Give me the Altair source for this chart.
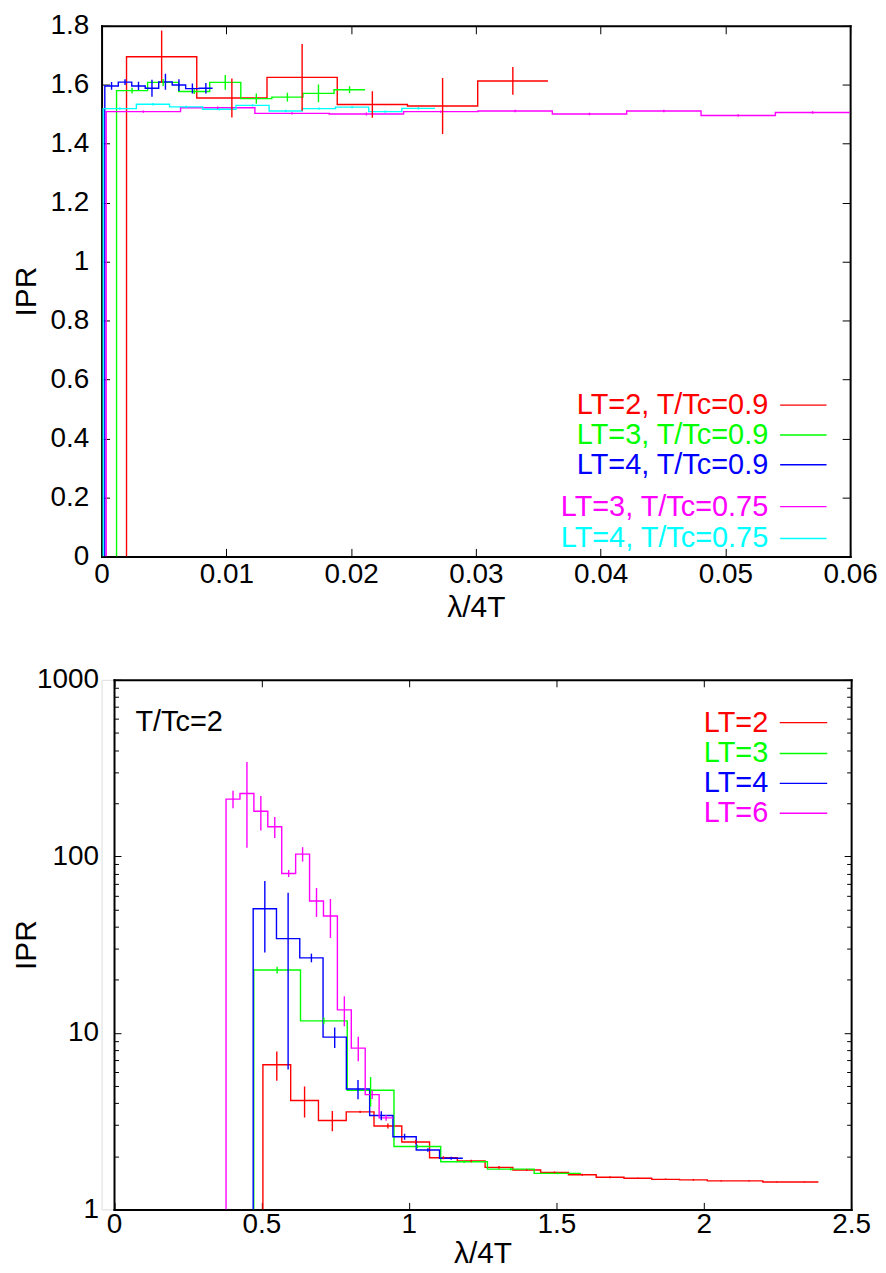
import altair as alt
import pandas as pd

# ----------------------------- data -----------------------------
# Top panel: IPR histograms vs lambda/4T (first bin edge, bin width, bin heights, error bars)
TOP_SERIES = ["LT=2, T/Tc=0.9", "LT=3, T/Tc=0.9", "LT=4, T/Tc=0.9",
              "LT=3, T/Tc=0.75", "LT=4, T/Tc=0.75"]
TOP_COLORS = ["#ff0000", "#00ff00", "#0000ff", "#ff00ff", "#00ffff"]
top_bin_start = [0.0020, 0.0012, 0.00026, 0.00037, 0.00013]
top_bin_width = [0.00563, 0.00249, 0.00108, 0.00596, 0.00266]
top_ipr_lt2_09 = [1.695, 1.555, 1.625, 1.533, 1.528, 1.613]
top_err_lt2_09 = [0.089, 0.066, 0.113, 0.045, 0.095, 0.047]
top_ipr_lt3_09 = [1.580, 1.608, 1.577, 1.608, 1.553, 1.558, 1.571, 1.583]
top_err_lt3_09 = [0.010, 0.012, 0.008, 0.025, 0.017, 0.015, 0.030, 0.012]
top_ipr_lt4_09 = [1.596, 1.609, 1.596, 1.588, 1.610, 1.599, 1.587, 1.588]
top_err_lt4_09 = [0.013, 0.010, 0.014, 0.029, 0.027, 0.020, 0.017, 0.018]
top_ipr_lt3_075 = [1.509, 1.522, 1.503, 1.501, 1.509, 1.511, 1.501, 1.511, 1.496, 1.506]
top_err_lt3_075 = [0.004, 0.004, 0.004, 0.005, 0.004, 0.004, 0.004, 0.004, 0.004, 0.004]
top_ipr_lt4_075 = [1.519, 1.534, 1.525, 1.517, 1.530, 1.511, 1.519, 1.524, 1.509, 1.520]
top_err_lt4_075 = [0.004, 0.004, 0.004, 0.004, 0.004, 0.004, 0.004, 0.004, 0.004, 0.004]
top_x_ticks = [0, 0.01, 0.02, 0.03, 0.04, 0.05, 0.06]
top_y_ticks = [0, 0.2, 0.4, 0.6, 0.8, 1, 1.2, 1.4, 1.6, 1.8]

# Bottom panel: T/Tc = 2, log IPR
BOT_SERIES = ["LT=2", "LT=3", "LT=4", "LT=6"]
BOT_COLORS = ["#ff0000", "#00ff00", "#0000ff", "#ff00ff"]
bot_bin_start = [0.505, 0.474, 0.472, 0.380]
bot_bin_width = [0.0942, 0.1585, 0.0790, 0.0472]
bot_ipr_lt2 = [6.6, 4.14, 3.19, 3.57, 2.97, 2.41, 1.96, 1.88, 1.73, 1.67,
               1.62, 1.57, 1.52, 1.50, 1.48, 1.47, 1.45, 1.45, 1.43, 1.43]
bot_err_lt2 = [1.25, 0.82, 0.42, 0.05, 0.10, 0.06, 0.04, 0.03, 0.03, 0.02,
               0.02, 0.02, 0.02, 0.015, 0.015, 0.015, 0.01, 0.01, 0.01, 0.01]
bot_ipr_lt3 = [22.7, 11.7, 4.73, 2.27, 1.86, 1.69, 1.60]
bot_err_lt3 = [1.0, 0.5, 0.9, 0.05, 0.03, 0.03, 0.02]
bot_ipr_lt4 = [50.5, 34.2, 26.6, 9.46, 4.81, 3.40, 2.58, 2.17, 1.95]
bot_err_lt4 = [22.0, 28.0, 1.5, 1.25, 0.6, 0.2, 0.1, 0.05, 0.04]
bot_ipr_lt6 = [211, 227, 180, 147, 80, 103, 55.8, 45.9, 13.5, 8.2, 4.47, 3.30]
bot_err_lt6 = [24, 115, 40, 20, 3.6, 9.6, 10.4, 11.4, 2.6, 1.3, 0.25, 0.12]
bot_x_ticks = [0, 0.5, 1, 1.5, 2, 2.5]
bot_y_ticks = [1, 10, 100, 1000]
bot_y_minor = [2, 3, 4, 5, 6, 7, 8, 9, 20, 30, 40, 50, 60, 70, 80, 90,
               200, 300, 400, 500, 600, 700, 800, 900]

# ----------------------------- layout / style -----------------------------
FONT = "Liberation Sans"
TICK_FS = 28
TITLE_FS = 30
LEG_FS = 29
LW = 1.4


def step_rows(names, starts, widths, values_list, base):
    rows = []
    for name, x0, w, vals in zip(names, starts, widths, values_list):
        edges = [x0 + w * i for i in range(len(vals) + 1)]
        xs = [edges[0]] + edges[:-1] + [edges[-1]]
        ys = [base] + list(vals) + [vals[-1]]
        for k, (x, y) in enumerate(zip(xs, ys)):
            rows.append({"series": name, "x": x, "y": y, "k": k})
    return pd.DataFrame(rows)


def err_rows(names, starts, widths, values_list, errs_list):
    rows = []
    for name, x0, w, vals, errs in zip(names, starts, widths, values_list, errs_list):
        for i, (v, e) in enumerate(zip(vals, errs)):
            rows.append({"series": name, "x": x0 + w * (i + 0.5), "lo": v - e, "hi": v + e})
    return pd.DataFrame(rows)


def axis(orient, **kw):
    base = dict(orient=orient, grid=False, domain=False, ticks=False, labels=False,
                title=None, domainColor="black", domainWidth=2, domainCap="square",
                tickColor="black", tickWidth=1, labelFont=FONT, labelFontSize=TICK_FS,
                labelColor="black", labelFlush=False, labelOverlap=False,
                titleFont=FONT, titleFontSize=TITLE_FS, titleFontWeight="normal",
                titleColor="black")
    base.update(kw)
    return alt.Axis(**base)


def panel(steps, errs, names, colors, xscale, yscale, xticks, yticks, yminor,
          width, height, left_shift, tick_len, minor_len,
          ylab_pad, yext, ytitle_pad, xlab_pad, xext, xtitle_pad,
          legend_df, leg_text_x, leg_line_x1, leg_line_x2, note=None):
    cscale = alt.Scale(domain=names, range=colors)
    col = alt.Color("series:N", scale=cscale, legend=None)

    lines = alt.Chart(steps).mark_line(interpolate="step-after", strokeWidth=LW, clip=True).encode(
        x=alt.X("x:Q", scale=xscale,
                axis=axis("bottom", domain=True, labels=True, tickSize=0, values=xticks,
                          format="~g", labelPadding=xlab_pad, title="\u03bb/4T",
                          titlePadding=xtitle_pad, minExtent=xext, maxExtent=xext)),
        y=alt.Y("y:Q", scale=yscale,
                axis=axis("left", domain=True, labels=True, tickSize=0, values=yticks,
                          format="~g", labelPadding=ylab_pad, title="IPR",
                          titlePadding=ytitle_pad, minExtent=yext, maxExtent=yext,
                          offset=-left_shift)),
        color=col, order=alt.Order("k:Q"), detail="series:N")

    bars = alt.Chart(errs).mark_rule(strokeWidth=LW, clip=True).encode(
        x=alt.X("x:Q", scale=xscale,
                axis=axis("bottom", ticks=True, tickSize=tick_len, values=xticks, offset=-tick_len)),
        y=alt.Y("lo:Q", scale=yscale,
                axis=axis("left", ticks=True, tickSize=tick_len, values=yticks,
                          offset=-(left_shift + tick_len))),
        y2="hi:Q", color=col)

    frame = alt.Chart(steps).mark_point(opacity=0, size=1).encode(
        x=alt.X("x:Q", scale=xscale, axis=axis("top", domain=True)),
        y=alt.Y("y:Q", scale=yscale, axis=axis("right", domain=True)))

    far_ticks = alt.Chart(steps).mark_point(opacity=0, size=1).encode(
        x=alt.X("x:Q", scale=xscale,
                axis=axis("top", ticks=True, tickSize=tick_len, values=xticks, offset=-tick_len)),
        y=alt.Y("y:Q", scale=yscale,
                axis=axis("right", ticks=True, tickSize=tick_len, values=yticks, offset=-tick_len)))

    layers = [lines, bars, frame, far_ticks]

    if yminor:
        layers.append(alt.Chart(steps).mark_point(opacity=0, size=1).encode(
            x=alt.X("x:Q", scale=xscale, axis=None),
            y=alt.Y("y:Q", scale=yscale,
                    axis=axis("left", ticks=True, tickSize=minor_len, values=yminor,
                              offset=-(left_shift + minor_len)))))
        layers.append(alt.Chart(steps).mark_point(opacity=0, size=1).encode(
            x=alt.X("x:Q", scale=xscale, axis=None),
            y=alt.Y("y:Q", scale=yscale,
                    axis=axis("right", ticks=True, tickSize=minor_len, values=yminor,
                              offset=-minor_len))))

    leg_text = alt.Chart(legend_df).mark_text(align="right", baseline="middle",
                                              font=FONT, fontSize=LEG_FS).encode(
        x=alt.value(leg_text_x), y=alt.Y("ly:Q", scale=None), text="series:N", color=col)
    leg_line = alt.Chart(legend_df).mark_rule(strokeWidth=LW).encode(
        x=alt.value(leg_line_x1), x2=alt.value(leg_line_x2),
        y=alt.Y("ly:Q", scale=None), color=col)
    layers += [leg_text, leg_line]

    if note is not None:
        layers.append(alt.Chart(pd.DataFrame({"t": [note[0]]})).mark_text(
            align="left", baseline="middle", font=FONT, fontSize=LEG_FS, color="black").encode(
            x=alt.value(note[1]), y=alt.value(note[2]), text="t:N"))

    return alt.layer(*layers).resolve_axis(x="independent", y="independent").properties(
        width=width, height=height)


top_steps = step_rows(TOP_SERIES, top_bin_start, top_bin_width,
                      [top_ipr_lt2_09, top_ipr_lt3_09, top_ipr_lt4_09,
                       top_ipr_lt3_075, top_ipr_lt4_075], 0.0)
top_errs = err_rows(TOP_SERIES, top_bin_start, top_bin_width,
                    [top_ipr_lt2_09, top_ipr_lt3_09, top_ipr_lt4_09,
                     top_ipr_lt3_075, top_ipr_lt4_075],
                    [top_err_lt2_09, top_err_lt3_09, top_err_lt4_09,
                     top_err_lt3_075, top_err_lt4_075])
bot_steps = step_rows(BOT_SERIES, bot_bin_start, bot_bin_width,
                      [bot_ipr_lt2, bot_ipr_lt3, bot_ipr_lt4, bot_ipr_lt6], 1.0)
bot_errs = err_rows(BOT_SERIES, bot_bin_start, bot_bin_width,
                    [bot_ipr_lt2, bot_ipr_lt3, bot_ipr_lt4, bot_ipr_lt6],
                    [bot_err_lt2, bot_err_lt3, bot_err_lt4, bot_err_lt6])

TOP_W, TOP_H = 752, 533
BOT_W, BOT_H = 753, 532
BOT_SHIFT = 12.5

top_leg = pd.DataFrame({"series": TOP_SERIES})
top_leg["ly"] = [381, 411, 441, 483, 515]
bot_leg = pd.DataFrame({"series": BOT_SERIES})
bot_leg["ly"] = [43, 74, 104, 134]

top = panel(top_steps, top_errs, TOP_SERIES, TOP_COLORS,
            alt.Scale(domain=[0, 0.06], nice=False, zero=False),
            alt.Scale(domain=[0, 1.8], nice=False, zero=False),
            top_x_ticks, top_y_ticks, None, TOP_W, TOP_H, 0, 8, 4,
            13, 55, 5, 4, 32, 4,
            top_leg, 669.7, 681.7, 728.3)

bottom = panel(bot_steps, bot_errs, BOT_SERIES, BOT_COLORS,
               alt.Scale(domain=[0, 2.5], range=[BOT_SHIFT, BOT_W], nice=False, zero=False),
               alt.Scale(type="log", domain=[1, 1000], nice=False),
               bot_x_ticks, bot_y_ticks, bot_y_minor, BOT_W, BOT_H, BOT_SHIFT, 7, 4.5,
               15.5, 67, 5.5, 1, 28, 1,
               bot_leg, 669.7, 681.3, 729, note=("T/Tc=2", 34, 42))

chart = alt.vconcat(top, bottom, spacing=42).properties(
    padding={"left": 3, "top": 0, "right": 0, "bottom": 0},
    background="white",
).configure_view(stroke="transparent").configure(font=FONT)

chart.save("out.html", embed_options={"renderer": "svg", "actions": False})
